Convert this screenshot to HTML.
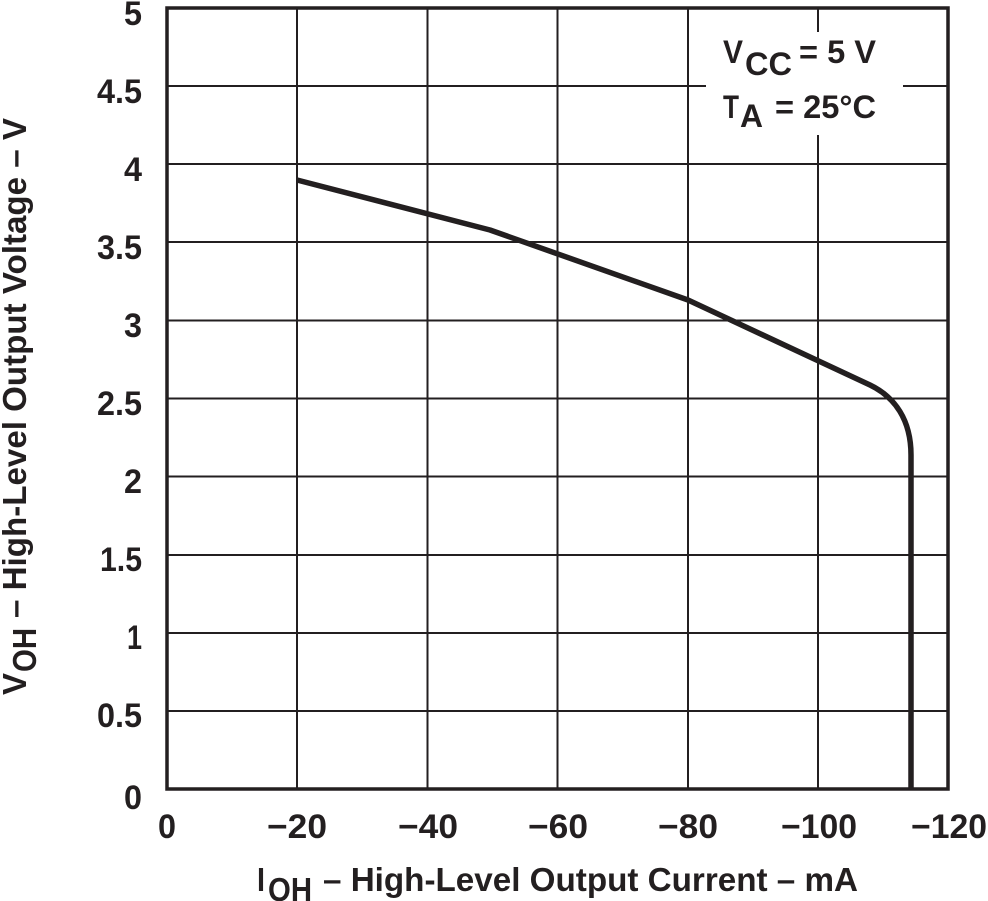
<!DOCTYPE html>
<html>
<head>
<meta charset="utf-8">
<style>
  html, body { margin:0; padding:0; background:#fff; }
  svg { display:block; }
  text { font-family: "Liberation Sans", "DejaVu Sans", sans-serif; font-weight:bold; fill:#231f20; }
</style>
</head>
<body>
<svg width="988" height="901" viewBox="0 0 988 901" xmlns="http://www.w3.org/2000/svg">
  <rect x="0" y="0" width="988" height="901" fill="#fff"/>
  <!-- grid -->
  <g stroke="#231f20" stroke-width="2" fill="none">
    <line x1="297" y1="8" x2="297" y2="789"/>
    <line x1="427.5" y1="8" x2="427.5" y2="789"/>
    <line x1="557.5" y1="8" x2="557.5" y2="789"/>
    <line x1="688" y1="8" x2="688" y2="789"/>
    <line x1="818" y1="8" x2="818" y2="789"/>
    <line x1="167" y1="86" x2="948" y2="86"/>
    <line x1="167" y1="164" x2="948" y2="164"/>
    <line x1="167" y1="242" x2="948" y2="242"/>
    <line x1="167" y1="320.5" x2="948" y2="320.5"/>
    <line x1="167" y1="398.5" x2="948" y2="398.5"/>
    <line x1="167" y1="476.5" x2="948" y2="476.5"/>
    <line x1="167" y1="555" x2="948" y2="555"/>
    <line x1="167" y1="633" x2="948" y2="633"/>
    <line x1="167" y1="711" x2="948" y2="711"/>
  </g>
  <!-- legend blank -->
  <rect x="706" y="32" width="197" height="103" fill="#fff"/>
  <!-- border -->
  <rect x="167" y="8" width="781" height="781" fill="none" stroke="#231f20" stroke-width="3.5"/>
  <!-- curve -->
  <path d="M297,180 L490,230 L688,300 L870,385 C895,397 911,420 911,455 L911,790" fill="none" stroke="#231f20" stroke-width="5.5" stroke-linejoin="round"/>

  <!-- y tick labels -->
  <g font-size="34" text-anchor="end">
    <text x="142" y="25" textLength="18" lengthAdjust="spacingAndGlyphs">5</text>
    <text x="142" y="103" textLength="45" lengthAdjust="spacingAndGlyphs">4.5</text>
    <text x="142" y="181" textLength="18" lengthAdjust="spacingAndGlyphs">4</text>
    <text x="142" y="259" textLength="45" lengthAdjust="spacingAndGlyphs">3.5</text>
    <text x="142" y="337" textLength="18" lengthAdjust="spacingAndGlyphs">3</text>
    <text x="142" y="415" textLength="45" lengthAdjust="spacingAndGlyphs">2.5</text>
    <text x="142" y="493" textLength="18" lengthAdjust="spacingAndGlyphs">2</text>
    <text x="142" y="571" textLength="42" lengthAdjust="spacingAndGlyphs">1.5</text>
    <text x="142" y="649" textLength="15" lengthAdjust="spacingAndGlyphs">1</text>
    <text x="142" y="727" textLength="45" lengthAdjust="spacingAndGlyphs">0.5</text>
    <text x="142" y="809" textLength="18" lengthAdjust="spacingAndGlyphs">0</text>
  </g>

  <!-- x tick labels -->
  <g font-size="34">
    <text x="158" y="838" textLength="18" lengthAdjust="spacingAndGlyphs">0</text>
    <text x="267" y="838" textLength="60" lengthAdjust="spacingAndGlyphs">−20</text>
    <text x="398" y="838" textLength="60" lengthAdjust="spacingAndGlyphs">−40</text>
    <text x="528" y="838" textLength="60" lengthAdjust="spacingAndGlyphs">−60</text>
    <text x="658" y="838" textLength="60" lengthAdjust="spacingAndGlyphs">−80</text>
    <text x="781" y="838" textLength="76" lengthAdjust="spacingAndGlyphs">−100</text>
    <text x="911" y="838" textLength="76" lengthAdjust="spacingAndGlyphs">−120</text>
  </g>

  <!-- x axis title -->
  <g font-size="33">
    <text x="257" y="891" textLength="8" lengthAdjust="spacingAndGlyphs">I</text>
    <text x="268" y="901" textLength="44" lengthAdjust="spacingAndGlyphs">OH</text>
    <text x="323" y="891" textLength="535" lengthAdjust="spacingAndGlyphs">– High-Level Output Current – mA</text>
  </g>

  <!-- y axis title -->
  <g font-size="33" transform="translate(26,695) rotate(-90)">
    <text x="0" y="0" textLength="22" lengthAdjust="spacingAndGlyphs">V</text>
    <text x="23" y="10" textLength="44" lengthAdjust="spacingAndGlyphs">OH</text>
    <text x="77" y="0" textLength="500" lengthAdjust="spacingAndGlyphs">– High-Level Output Voltage – V</text>
  </g>

  <!-- legend -->
  <g font-size="32">
    <text x="723" y="63" textLength="20" lengthAdjust="spacingAndGlyphs">V</text>
    <text x="745" y="75" textLength="47" lengthAdjust="spacingAndGlyphs">CC</text>
    <text x="799" y="63" textLength="77" lengthAdjust="spacingAndGlyphs">= 5 V</text>
    <text x="723" y="118" textLength="16" lengthAdjust="spacingAndGlyphs">T</text>
    <text x="740" y="127" textLength="23" lengthAdjust="spacingAndGlyphs">A</text>
    <text x="775" y="118" textLength="101" lengthAdjust="spacingAndGlyphs">= 25°C</text>
  </g>
</svg>
</body>
</html>
